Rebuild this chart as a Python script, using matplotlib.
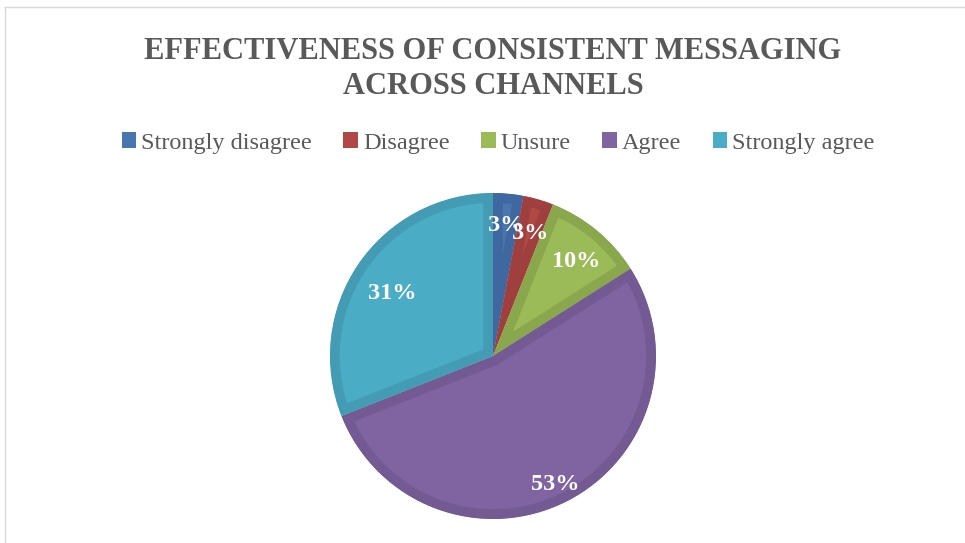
import matplotlib
matplotlib.use("Agg")
import numpy as np
from matplotlib import pyplot as plt
from matplotlib.patches import Patch
from matplotlib.lines import Line2D

categories = ["Strongly disagree", "Disagree", "Unsure", "Agree", "Strongly agree"]
shares = [3, 3, 10, 53, 31]
fill_colors = ["#4A76AF", "#B04946", "#9BBB59", "#8064A2", "#4BACC6"]
edge_colors = ["#3F68A0", "#A0403E", "#8AA74D", "#735A92", "#439CB4"]
# how far out (fraction of radius) each percentage label sits
label_dist = [0.84, 0.82, 0.80, 0.845, 0.745]

title_text = "EFFECTIVENESS OF CONSISTENT MESSAGING\nACROSS CHANNELS"
grey = "#595959"
serif = ["Liberation Serif", "DejaVu Serif"]

fig = plt.figure(figsize=(9.65, 5.43), dpi=100)

# thin chart-area border along the top and left
fig.add_artist(Line2D([5 / 965, 5 / 965], [0, 1 - 7 / 543], transform=fig.transFigure,
                      color="#D9D9D9", lw=1))
fig.add_artist(Line2D([5 / 965, 1], [1 - 7 / 543, 1 - 7 / 543], transform=fig.transFigure,
                      color="#D9D9D9", lw=1))

fig.text(493 / 965, 1 - 69 / 543, title_text, ha="center", va="center",
         fontsize=22, fontweight="bold", color=grey, family=serif, linespacing=1.3)

ax = fig.add_axes([330 / 965, 24 / 543, 326 / 965, 326 / 543])
wedges, texts, autotexts = ax.pie(
    shares, colors=fill_colors, startangle=90, counterclock=False,
    autopct="%1.0f%%", pctdistance=0.81,
    wedgeprops=dict(linewidth=14, joinstyle="miter"),
    textprops=dict(color="white", fontsize=17.5, fontweight="bold", family=serif),
)
# darker bevel band kept inside each slice
for w, ec in zip(wedges, edge_colors):
    w.set_edgecolor(ec)
    w.set_clip_path(w)
    w.set_clip_on(True)

# push each label along its slice's mid-angle
for w, t, d in zip(wedges, autotexts, label_dist):
    mid = np.deg2rad((w.theta1 + w.theta2) / 2)
    t.set_position((d * np.cos(mid), d * np.sin(mid) - 0.02))
    t.set_va("center_baseline")

ax.set_xlim(-1, 1)
ax.set_ylim(-1, 1)
ax.set_aspect("equal")
ax.axis("off")

handles = [Patch(facecolor=c, edgecolor="none") for c in fill_colors]
fig.legend(handles, categories, loc="center", bbox_to_anchor=(498 / 965, 1 - 143 / 543),
           ncol=5, frameon=False, handlelength=0.6, handleheight=0.6,
           handletextpad=0.2, columnspacing=1.3, labelcolor=grey,
           prop=dict(family=serif, size=17.5))

fig.savefig("out.png", dpi=100)
